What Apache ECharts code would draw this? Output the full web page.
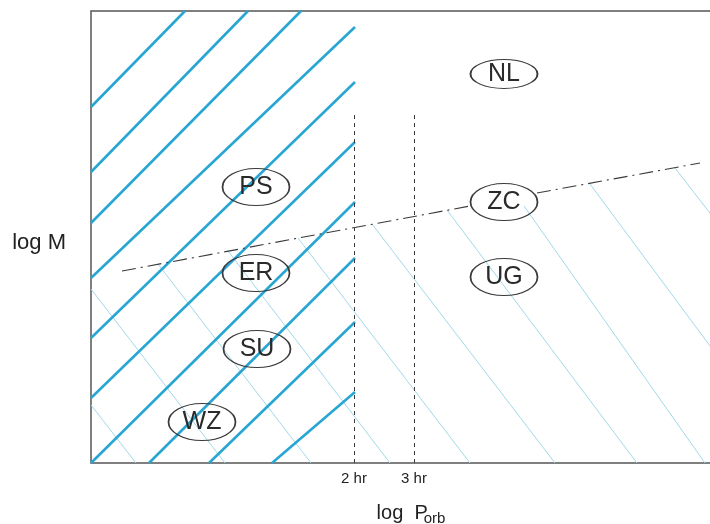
<!DOCTYPE html>
<html>
<head>
<meta charset="utf-8">
<script src="https://cdn.jsdelivr.net/npm/echarts@6/dist/echarts.min.js"></script>
<style>
  html, body { margin: 0; padding: 0; background: #ffffff; }
  #chart { width: 710px; height: 524px; }
</style>
</head>
<body>
<div id="chart"></div>
<script>
// Schematic CV diagram: log M against log P_orb, abstract units
// (x: 0..622 across the frame, y: 0..452 bottom to top).

// Period-gap edges and their labels
const gapEdges = [263, 323];
const gapLabels = ['2 hr', '3 hr'];
const gapLineTop = 349;

// Subclass regions
const regionNames = ['NL', 'PS', 'ZC', 'ER', 'UG', 'SU', 'WZ'];
const regionX = [413, 165, 413, 165, 413, 166, 111];
const regionY = [389, 276, 261, 190, 186, 114, 41];

// Dash-dot boundary (split where it passes behind the ZC label)
const boundaryA = [[31, 192], [379, 257]];
const boundaryB = [[446, 270], [609, 300]];

// Heavy hatching (short-period side), [x1, y1, x2, y2]
const heavyHatch = [
  [0, 356, 94, 452],
  [0, 291, 157, 452],
  [0, 240, 210, 452],
  [0, 185, 264, 436],
  [0, 125, 264, 381],
  [0, 65, 264, 321],
  [0, 0, 264, 261],
  [58, 0, 264, 205],
  [118, 0, 264, 141],
  [181, 0, 264, 71]
];

// Light hatching (below the boundary), [x1, y1, x2, y2]
const lightHatch = [
  [0, 174, 134, 0],
  [0, 58, 45, 0],
  [67, 199, 220, 0],
  [137, 212, 299, 0],
  [207, 225, 379, 0],
  [281, 239, 464, 0],
  [356, 253, 546, 0],
  [433, 257, 614, 0],
  [499, 279, 622, 113],
  [584, 295, 622, 246]
];

function segs(list) {
  return list.map(s => ({ coords: [[s[0], s[1]], [s[2], s[3]]] }));
}

const chart = echarts.init(document.getElementById('chart'));
const ink = '#3a3a3a';
const font = '"Liberation Sans", Arial, Helvetica, sans-serif';

chart.setOption({
  backgroundColor: '#ffffff',
  animation: false,
  grid: {
    left: 91, top: 11, width: 622, height: 452,
    containLabel: false,
    outerBoundsMode: 'none',
    show: true, borderColor: '#555555', borderWidth: 1.5,
    backgroundColor: 'transparent'
  },
  xAxis: {
    type: 'value', min: 0, max: 622,
    splitLine: { show: false },
    axisLine: { show: false },
    axisTick: { show: false },
    axisLabel: {
      customValues: gapEdges,
      formatter: v => gapLabels[gapEdges.indexOf(v)] || '',
      color: '#222', fontFamily: font, fontSize: 15, margin: 8
    },
    name: '{a|log  P}{b|orb}',
    nameLocation: 'middle',
    nameGap: 38,
    nameTextStyle: {
      padding: [0, 0, 0, 18],
      rich: {
        a: { fontSize: 20, color: '#222', fontFamily: font },
        b: { fontSize: 15, color: '#222', fontFamily: font, padding: [10, 0, 0, -4] }
      }
    }
  },
  yAxis: {
    type: 'value', min: 0, max: 452,
    splitLine: { show: false },
    axisLine: { show: false },
    axisTick: { show: false },
    axisLabel: { show: false },
    name: 'log M',
    nameLocation: 'middle',
    nameRotate: 0,
    nameGap: 25,
    nameTextStyle: {
      fontSize: 22, color: '#222', fontFamily: font,
      verticalAlign: 'top', lineHeight: 12
    }
  },
  series: [
    {
      type: 'lines', coordinateSystem: 'cartesian2d', z: 1,
      lineStyle: { color: '#a2d8ea', width: 1, opacity: 1 },
      data: segs(lightHatch)
    },
    {
      type: 'lines', coordinateSystem: 'cartesian2d', z: 2,
      lineStyle: { color: '#28a6d3', width: 2.6, opacity: 1 },
      data: segs(heavyHatch)
    },
    {
      type: 'lines', coordinateSystem: 'cartesian2d', z: 3,
      lineStyle: { color: ink, width: 1, type: [4, 4], opacity: 1 },
      data: gapEdges.map(x => ({ coords: [[x, 0], [x, gapLineTop]] }))
    },
    {
      type: 'lines', coordinateSystem: 'cartesian2d', z: 3,
      lineStyle: { color: ink, width: 1.1, type: [14, 5, 2, 5], opacity: 1 },
      data: [{ coords: boundaryA }, { coords: boundaryB }]
    },
    {
      type: 'scatter', z: 4,
      symbol: 'circle',
      symbolSize: (v, p) => p.name === 'NL' ? [67, 29] : [67, 37],
      itemStyle: { color: 'rgba(255,255,255,0)', borderColor: ink, borderWidth: 1.3, opacity: 1 },
      label: {
        show: true, position: 'inside', formatter: p => p.name,
        color: '#2a2a2a', fontSize: 25, fontFamily: font
      },
      emphasis: { disabled: true },
      data: regionNames.map((n, i) => ({ name: n, value: [regionX[i], regionY[i]] }))
    }
  ]
});
</script>
</body>
</html>
